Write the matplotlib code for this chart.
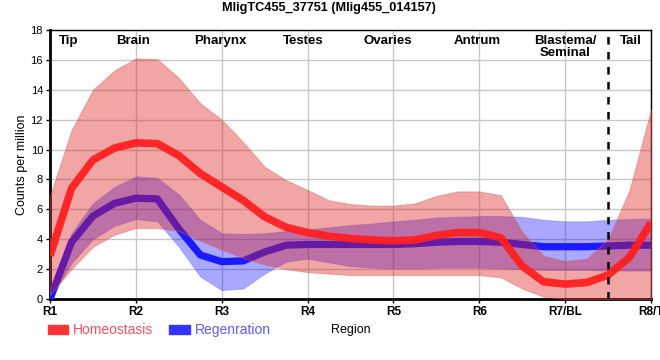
import matplotlib

matplotlib.use("Agg")
import matplotlib.pyplot as plt
from matplotlib.patches import Patch

plt.rcParams["font.family"] = ["Liberation Sans", "DejaVu Sans"]

# sample positions along the body axis (R1 .. R8/T), read every quarter region
pos = [1 + 0.25 * i for i in range(29)]

homeo_mean = [2.9, 7.4, 9.3, 10.1, 10.45, 10.4, 9.6, 8.4, 7.5, 6.6, 5.5, 4.8, 4.45, 4.2, 4.05,
              3.95, 3.9, 3.95, 4.25, 4.45, 4.45, 4.1, 2.2, 1.15, 1.0, 1.1, 1.6, 2.8, 5.1]
homeo_hi = [6.9, 11.3, 14.0, 15.3, 16.1, 16.05, 14.8, 13.1, 12.0, 10.5, 8.85, 7.95, 7.3, 6.6, 6.35,
            6.25, 6.25, 6.4, 6.9, 7.2, 7.2, 6.95, 4.5, 2.9, 2.55, 2.7, 4.0, 7.3, 12.7]
homeo_lo = [0.3, 2.0, 3.5, 4.3, 4.75, 4.75, 4.55, 3.9, 3.3, 2.75, 2.3, 2.0, 1.8, 1.7, 1.6,
            1.6, 1.6, 1.6, 1.6, 1.6, 1.6, 1.45, 0.7, 0.15, 0.0, 0.0, 0.0, 0.0, 0.0]

regen_mean = [0.0, 3.8, 5.55, 6.4, 6.75, 6.7, 4.7, 2.95, 2.5, 2.55, 3.15, 3.6, 3.65, 3.65, 3.65,
              3.65, 3.65, 3.7, 3.8, 3.85, 3.85, 3.8, 3.65, 3.5, 3.5, 3.5, 3.55, 3.6, 3.6]
regen_hi = [0.5, 4.4, 6.4, 7.5, 8.2, 8.1, 7.0, 5.3, 4.4, 4.35, 4.4, 4.55, 4.65, 4.8, 4.95,
            5.05, 5.2, 5.3, 5.45, 5.5, 5.55, 5.55, 5.5, 5.3, 5.2, 5.2, 5.3, 5.35, 5.4]
regen_lo = [0.0, 2.4, 4.0, 4.9, 5.35, 5.2, 3.5, 1.5, 0.6, 0.7, 1.7, 2.5, 2.7, 2.45, 2.2,
            2.1, 2.05, 2.05, 2.1, 2.1, 2.1, 2.05, 2.0, 1.95, 1.95, 1.95, 1.9, 1.9, 1.9]

region_ticks = [1, 2, 3, 4, 5, 6, 7, 8]
region_labels = ["R1", "R2", "R3", "R4", "R5", "R6", "R7/BL", "R8/T"]
tissue_names = ["Tip", "Brain", "Pharynx", "Testes", "Ovaries", "Antrum", "Blastema/\nSeminal", "Tail"]
tissue_pos = [1.22, 1.97, 2.98, 3.95, 4.93, 5.97, 7.0, 7.76]
blastema_cut = 7.5

fig = plt.figure(figsize=(6.6, 3.6), dpi=100)
ax = fig.add_axes([0.0758, 0.1694, 0.9106, 0.7472])

# regeneration first, homeostasis band drawn over it
ax.fill_between(pos, regen_lo, regen_hi, color="#0000ff", alpha=0.34, lw=0.8, edgecolor="#6060ff", zorder=2)
ax.plot(pos, regen_mean, color="#1a1aff", lw=5.2, solid_capstyle="butt", solid_joinstyle="round", zorder=3)
ax.fill_between(pos, homeo_lo, homeo_hi, color="#dc1e1e", alpha=0.4, lw=0.8, edgecolor="#e06060", zorder=4)
ax.plot(pos, homeo_mean, color="#ff1f1f", lw=5.5, alpha=0.95, solid_capstyle="butt",
        solid_joinstyle="round", zorder=5)

ax.axvline(blastema_cut, color="black", lw=1.8, ls=(0, (3, 3)), zorder=6)

for name, x in zip(tissue_names, tissue_pos):
    ax.text(x, 17.7, name, ha="center", va="top", fontsize=9.5, fontweight="bold",
            linespacing=1.0, zorder=7)

ax.set_xlim(1, 8)
ax.set_ylim(0, 18)
ax.set_xticks(region_ticks)
ax.set_xticklabels(region_labels, fontweight="bold", fontsize=8.5)
ax.set_yticks(range(0, 19, 2))
ax.tick_params(axis="y", labelsize=8, length=3, width=1, pad=2)
ax.tick_params(axis="x", length=3, width=1, pad=2)
ax.grid(True, color="#c8c8c8", lw=1, zorder=0)
ax.set_axisbelow(True)
for side in ("left", "bottom"):
    ax.spines[side].set_linewidth(2)
for side in ("top", "right"):
    ax.spines[side].set_linewidth(1)

ax.set_ylabel("Counts per million", fontsize=9, labelpad=2)
fig.text(0.532, 0.083, "Region", ha="center", va="center", fontsize=9)
fig.text(0.499, 0.977, "MligTC455_37751 (Mlig455_014157)", ha="center", va="center",
         fontsize=9.2, fontweight="bold")

handles = [Patch(color="#ff3333"), Patch(color="#3333ff")]
leg = fig.legend(handles, ["Homeostasis", "Regenration"], loc="center left",
                 bbox_to_anchor=(0.072, 0.083), ncol=2, frameon=False, fontsize=10,
                 handlelength=1.5, handleheight=0.6, handletextpad=0.3, columnspacing=1.2,
                 borderpad=0, borderaxespad=0)
for t, c in zip(leg.get_texts(), ["#ff4d5e", "#5b5bff"]):
    t.set_color(c)

fig.savefig("out.png", dpi=100)
